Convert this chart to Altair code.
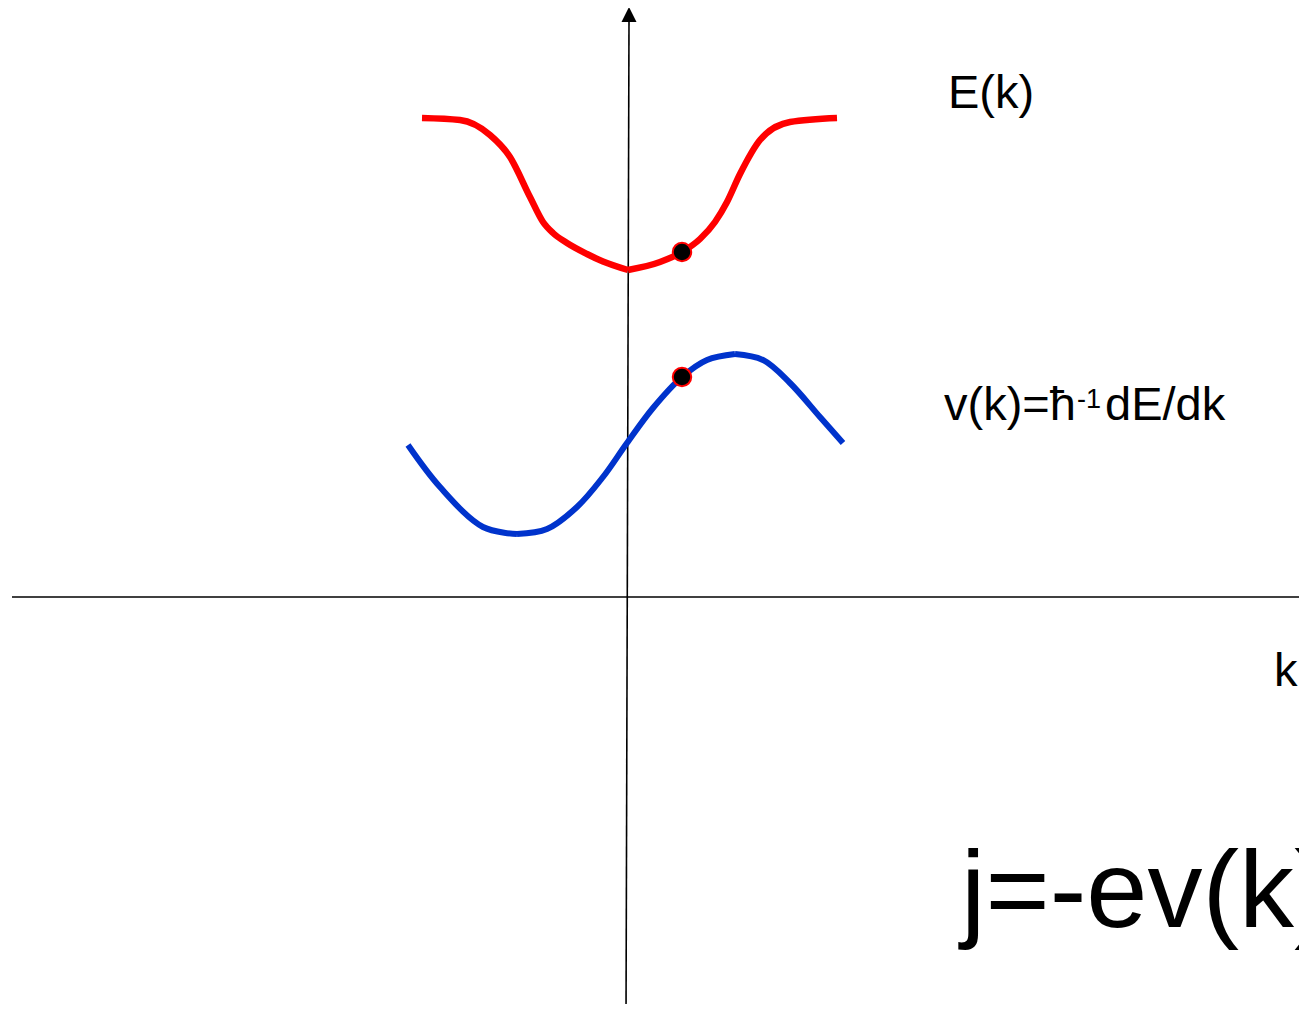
import altair as alt
import pandas as pd

# Coordinates: k to the right, energy / velocity upward; origin at the axes crossing.
# E(k) band (red): left and right branch meet in a kink at k = 0
E_left_k = [-2.05, -1.67, -1.37, -1.17, -0.97, -0.84, -0.74, -0.60, -0.40, -0.24, 0.01]
E_left_v = [4.79, 4.77, 4.62, 4.40, 4.00, 3.75, 3.64, 3.54, 3.43, 3.355, 3.27]
E_right_k = [0.01, 0.33, 0.55, 0.73, 0.88, 1.00, 1.13, 1.33, 1.63, 2.10]
E_right_v = [3.27, 3.35, 3.45, 3.58, 3.75, 3.95, 4.23, 4.57, 4.75, 4.79]

# v(k) curve (blue), drawn in three pieces
V1_k = [-2.19, -1.87, -1.44, -1.10]
V1_v = [1.52, 1.10, 0.70, 0.63]
V2_k = [-1.10, -0.80, -0.50, -0.24, 0.00, 0.26, 0.55, 0.80, 1.08]
V2_v = [0.63, 0.68, 0.90, 1.20, 1.54, 1.89, 2.20, 2.37, 2.43]
V3_k = [1.08, 1.36, 1.63, 1.93, 2.16]
V3_v = [2.43, 2.37, 2.14, 1.80, 1.54]

# marked state
dot_k = [0.55, 0.55]
dot_v = [3.45, 2.20]

# axes
haxis_k = [-6.15, 6.85]
haxis_v = [0.0, 0.0]
vaxis_k = [0.02, -0.01]
vaxis_v = [5.77, -4.23]
arrow_k = [0.02]
arrow_v = [5.825]

# labels
lab_text = ["E(k)", "v(k)=ħ", "dE/dk", "k"]
lab_k = [3.21, 3.17, 4.78, 6.47]
lab_v = [4.89, 1.77, 1.77, -0.89]
sup_text = ["-1"]
sup_k = [4.50]
sup_v = [1.89]
big_text = ["j=-ev(k)"]
big_k = [3.34]
big_v = [-3.30]

W, H = 1291, 996
xs = alt.Scale(domain=[-6.19, 6.72], nice=False, zero=False)
ys = alt.Scale(domain=[-4.07, 5.89], nice=False, zero=False)
X = alt.X("k:Q", scale=xs, axis=None)
Y = alt.Y("v:Q", scale=ys, axis=None)

def seg_df(pairs):
    rows = []
    for name, ks, vs in pairs:
        for a, b in zip(ks, vs):
            rows.append({"seg": name, "k": a, "v": b})
    return pd.DataFrame(rows)

red_df = seg_df([("L", E_left_k, E_left_v), ("R", E_right_k, E_right_v)])
blue_df = seg_df([("1", V1_k, V1_v), ("2", V2_k, V2_v), ("3", V3_k, V3_v)])
hax_df = pd.DataFrame({"k": haxis_k, "v": haxis_v})
vax_df = pd.DataFrame({"k": vaxis_k, "v": vaxis_v, "o": [0, 1]})
arr_df = pd.DataFrame({"k": arrow_k, "v": arrow_v})
dot_df = pd.DataFrame({"k": dot_k, "v": dot_v})
lab_df = pd.DataFrame({"t": lab_text, "k": lab_k, "v": lab_v})
sup_df = pd.DataFrame({"t": sup_text, "k": sup_k, "v": sup_v})
big_df = pd.DataFrame({"t": big_text, "k": big_k, "v": big_v})

hax = alt.Chart(hax_df).mark_line(color="black", strokeWidth=1.6).encode(x=X, y=Y)
vax = alt.Chart(vax_df).mark_line(color="black", strokeWidth=1.6).encode(x=X, y=Y, order="o:Q")
arrow = alt.Chart(arr_df).mark_point(shape="M0,-1L-1,1L1,1Z", size=225, filled=True,
                                     color="black", opacity=1).encode(x=X, y=Y)

red = alt.Chart(red_df).mark_line(color="#ff0000", strokeWidth=6.5, interpolate="monotone").encode(
    x=X, y=Y, detail="seg:N")
blue = alt.Chart(blue_df).mark_line(color="#0033cc", strokeWidth=6, interpolate="catmull-rom",
                                    strokeCap="butt").encode(x=X, y=Y, detail="seg:N")
dots = alt.Chart(dot_df).mark_point(shape="circle", size=340, filled=True, fill="black",
                                    stroke="#ff0000", strokeWidth=2, opacity=1).encode(x=X, y=Y)

labels = alt.Chart(lab_df).mark_text(align="left", baseline="alphabetic", font="Liberation Sans",
                                     fontSize=47, color="black").encode(x=X, y=Y, text="t:N")
sup = alt.Chart(sup_df).mark_text(align="left", baseline="alphabetic", font="Liberation Sans",
                                  fontSize=27, color="black").encode(x=X, y=Y, text="t:N")
big = alt.Chart(big_df).mark_text(align="left", baseline="alphabetic", font="Liberation Sans",
                                  fontSize=110, color="black").encode(x=X, y=Y, text="t:N")

chart = alt.layer(hax, vax, arrow, red, blue, dots, labels, sup, big).properties(
    width=W, height=H, padding=0, autosize="none"
).configure_view(stroke=None)

chart.save("out.html", embed_options={"renderer": "svg", "actions": False})
